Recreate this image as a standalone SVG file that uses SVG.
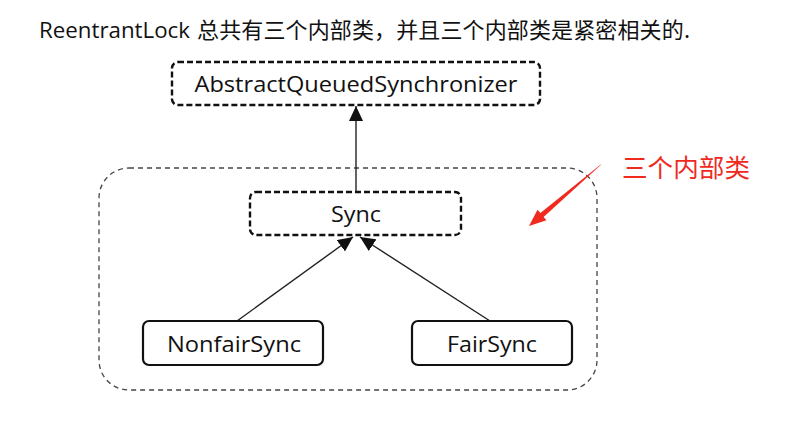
<svg xmlns="http://www.w3.org/2000/svg" width="805" height="431" viewBox="0 0 805 431">
<style>
.lbl{font-family:"Open Sans","Noto Sans",sans-serif;font-size:22px;fill:#111;text-anchor:middle}
.dbox{fill:none;stroke:#111;stroke-width:2.4;stroke-dasharray:6 3}
.sbox{fill:#fff;stroke:#111;stroke-width:2.2}
.conn{stroke:#222;stroke-width:1.4;fill:none}
</style>
<defs>
<marker id="ah" markerUnits="userSpaceOnUse" markerWidth="15" markerHeight="14" viewBox="0 0 15 14" refX="15" refY="7" orient="auto">
<path d="M0,0 L15,7 L0,14 z" fill="#111"/>
</marker>
</defs>
<rect width="805" height="431" fill="#fff"/>
<text x="39" y="37.5" font-family="'Open Sans','Noto Sans CJK SC',sans-serif" font-size="22" fill="#111" textLength="151" lengthAdjust="spacingAndGlyphs">ReentrantLock</text>
<text x="197" y="38" font-family="'Noto Sans CJK SC',sans-serif" font-size="22" fill="#111" textLength="493" lengthAdjust="spacing">总共有三个内部类，并且三个内部类是紧密相关的.</text>
<g id="group-inner">
<rect x="99" y="168" width="498" height="222" rx="30" fill="none" stroke="#444" stroke-width="1.3" stroke-dasharray="5 4"/>
</g>
<g id="connectors">
<line class="conn" x1="356" y1="192" x2="356" y2="106" marker-end="url(#ah)"/>
<line class="conn" x1="237" y1="321" x2="353" y2="237" marker-end="url(#ah)"/>
<line class="conn" x1="490" y1="321" x2="360" y2="237" marker-end="url(#ah)"/>
</g>
<g id="node-aqs">
<rect class="dbox" x="172" y="62" width="368" height="43" rx="6"/>
<text class="lbl" x="356" y="92" textLength="323" lengthAdjust="spacingAndGlyphs">AbstractQueuedSynchronizer</text>
</g>
<g id="node-sync">
<rect class="dbox" x="250" y="192" width="211" height="43" rx="6"/>
<text class="lbl" x="356" y="222" textLength="50" lengthAdjust="spacingAndGlyphs">Sync</text>
</g>
<g id="node-nonfair">
<rect class="sbox" x="143" y="321" width="180" height="44" rx="6"/>
<text class="lbl" x="234" y="352" textLength="134" lengthAdjust="spacingAndGlyphs">NonfairSync</text>
</g>
<g id="node-fair">
<rect class="sbox" x="412" y="321" width="160" height="44" rx="6"/>
<text class="lbl" x="492" y="352" textLength="90" lengthAdjust="spacingAndGlyphs">FairSync</text>
</g>
<g id="annotation">
<text x="622" y="177" font-family="'Noto Sans CJK SC',sans-serif" font-size="25" fill="#f02a1e" textLength="128" lengthAdjust="spacingAndGlyphs">三个内部类</text>
<path d="M601.3,164.6 L543.6,216.9 L546.5,220.3 L529,226 L537.5,209.7 L540.4,213.1 L600.7,164.4 z" fill="#f02a1e"/>
</g>
</svg>
